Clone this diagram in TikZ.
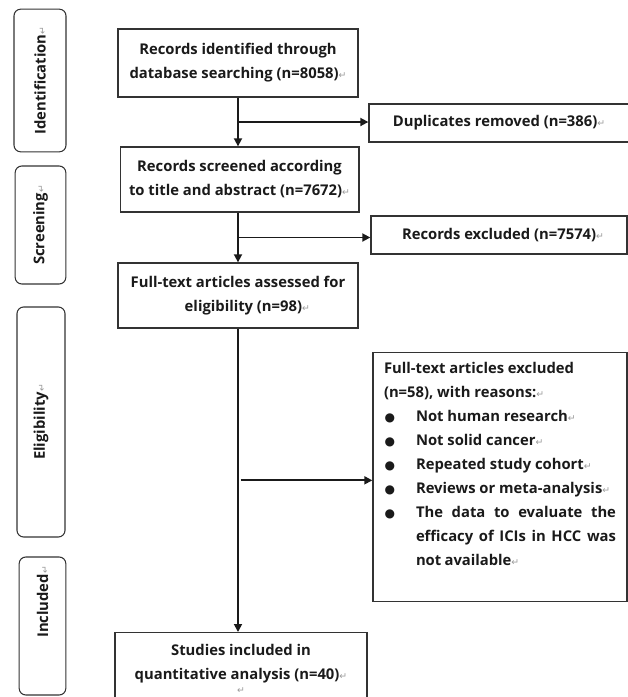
\documentclass[tikz,border=0pt]{standalone}
\usepackage{fontspec}
\setmainfont{Open Sans}
\newfontfamily\symfont{DejaVu Sans}
\usetikzlibrary{positioning, arrows.meta, calc}
\definecolor{flowInk}{HTML}{1A1A1A}
\definecolor{flowLine}{HTML}{333333}
\definecolor{flowMark}{HTML}{9A9A9A}
% paragraph mark as printed in the source
\newcommand{\pmark}{{\symfont\mdseries\fontsize{7pt}{7pt}\selectfont\textcolor{flowMark}{↵}}}
% list entry with a hanging bullet
\newcommand{\reason}[1]{\par\noindent\hangindent=24pt\hangafter=0%
  \llap{\makebox[24pt][l]{\hspace{0.5pt}{\symfont\fontsize{9pt}{9pt}\selectfont ●}}}#1}

\begin{document}
\begin{tikzpicture}[x=0.75pt, y=-0.75pt,
    font=\fontsize{11.1pt}{18pt}\selectfont\bfseries, text=flowInk,
    stage/.style={draw=flowLine, line width=0.8pt, rounded corners=5pt, rotate=90,
      inner sep=0pt, align=center},
    box/.style={draw=flowLine, line width=1pt, inner sep=0pt, align=center},
    flow/.style={draw=flowInk, line width=1.3pt, -{Triangle[length=6pt, width=6pt]}}]
  \useasboundingbox (0,0) rectangle (628,697);
  \clip (0,0) rectangle (628,697);
  % Stages
  \node[stage, minimum width=107pt, minimum height=39pt] (idf) at (40,80.5) {Identification\pmark};
  \node[stage, minimum width=88.5pt, minimum height=38pt] (scr) at (40.5,225) {Screening\pmark};
  \node[stage, minimum width=172.5pt, minimum height=36pt] (elg) at (41,422) {Eligibility\pmark};
  \node[stage, minimum width=103.5pt, minimum height=35pt] (inc) at (42.5,626) {\hspace*{36pt}Included\pmark};
  % Main column
  \node[box, minimum width=180pt, minimum height=51pt] (rec) at (238,63)
    {Records identified through\\database searching (n=8058)\pmark};
  \node[box, minimum width=179pt, minimum height=48.75pt] (scrd) at (239.5,179.5)
    {Records screened according\\to title and abstract (n=7672)\pmark};
  \node[box, minimum width=180pt, minimum height=48.75pt] (full) at (238,295.5)
    {Full-text articles assessed for\\\hspace*{14pt}eligibility (n=98)\pmark};
  \node[box, anchor=north, minimum width=189pt, inner ysep=9pt] (incl) at (241,632)
    {Studies included in\\quantitative analysis (n=40)\pmark\\[-8pt]\pmark\\\rule{0pt}{16pt}};
  % Side column
  \node[box, minimum width=195pt, minimum height=28.5pt] (dup) at (499,123)
    {Duplicates removed (n=386)\pmark};
  \node[box, minimum width=192pt, minimum height=28.5pt] (exc) at (499,235)
    {\hspace*{6pt}Records excluded (n=7574)\pmark};
  \node[box, anchor=north, minimum width=190.5pt, minimum height=175.5pt,
    text width=174pt, align=justify, inner xsep=8pt, inner ysep=7pt] (ftx) at (500,352)
    {Full-text articles excluded\\(n=58), with reasons:\pmark
     \reason{Not human research\pmark}
     \reason{Not solid cancer\pmark}
     \reason{Repeated study cohort\pmark}
     \reason{Reviews or meta-analysis\pmark}
     \reason{\spaceskip=0.22em plus 1em The data to evaluate the efficacy of ICIs in HCC was not available\pmark}
     \par\vspace*{20pt}};
  % Connectors
  \coordinate (k1) at ($(rec.south)!0.5!(rec.south |- scrd.north)$);
  \coordinate (k2) at ($(rec.south |- scrd.south)!0.5!(rec.south |- full.north)$);
  \coordinate (k3) at ($(rec.south |- full.south)!0.5!(rec.south |- incl.north)$);
  \draw[flow] (rec.south) -- (rec.south |- scrd.north);
  \draw[flow] (rec.south |- scrd.south) -- (rec.south |- full.north);
  \draw[flow] (rec.south |- full.south) -- (rec.south |- incl.north);
  \draw[flow] (k1) -- (k1 -| dup.west);
  \draw[flow] (k2) -- (k2 -| exc.west);
  \draw[flow] ([xshift=2pt]k3) -- (k3 -| ftx.west);
\end{tikzpicture}
\end{document}
